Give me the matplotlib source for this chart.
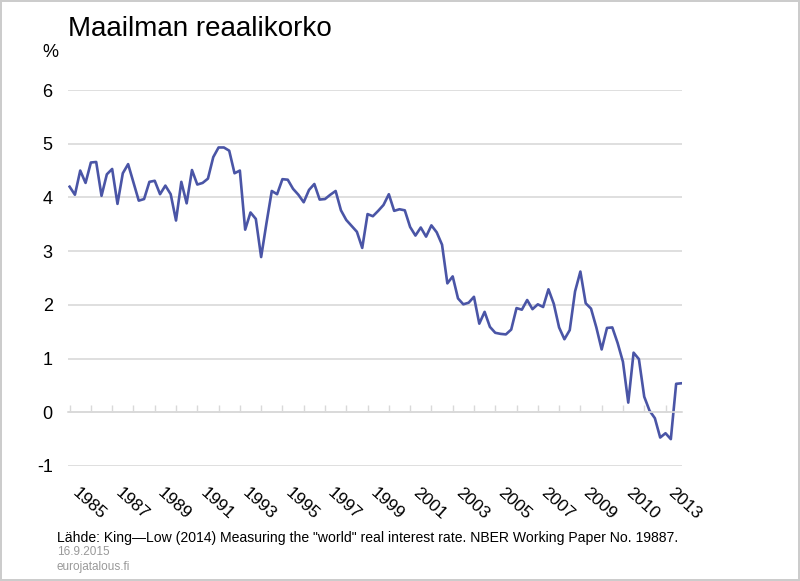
import matplotlib.pyplot as plt
import numpy as np

plt.rcParams["font.family"] = ["Liberation Sans", "DejaVu Sans"]

# Neljännesvuosittainen reaalikorko 1985Q1-2013Q4 (%)
rate = [
    4.20, 4.05, 4.50, 4.27, 4.65, 4.66, 4.03, 4.43, 4.53, 3.88,
    4.45, 4.62, 4.28, 3.94, 3.97, 4.29, 4.31, 4.06, 4.22, 4.06,
    3.57, 4.29, 3.89, 4.51, 4.24, 4.27, 4.35, 4.75, 4.93, 4.93,
    4.87, 4.45, 4.50, 3.40, 3.72, 3.60, 2.89, 3.52, 4.12, 4.06,
    4.34, 4.33, 4.16, 4.05, 3.91, 4.14, 4.25, 3.96, 3.97, 4.05,
    4.12, 3.76, 3.58, 3.47, 3.36, 3.06, 3.69, 3.65, 3.75, 3.86,
    4.06, 3.75, 3.78, 3.76, 3.45, 3.29, 3.44, 3.27, 3.48, 3.35,
    3.12, 2.40, 2.53, 2.12, 2.01, 2.04, 2.15, 1.65, 1.87, 1.59,
    1.48, 1.46, 1.45, 1.54, 1.94, 1.91, 2.09, 1.92, 2.01, 1.96,
    2.29, 2.02, 1.58, 1.36, 1.53, 2.25, 2.62, 2.03, 1.93, 1.58,
    1.17, 1.57, 1.58, 1.29, 0.94, 0.18, 1.11, 0.99, 0.29, 0.03,
    -0.11, -0.47, -0.39, -0.50, 0.53, 0.54,
]
year_labels = ["1985", "1987", "1989", "1991", "1993", "1995", "1997", "1999",
               "2001", "2003", "2005", "2007", "2009", "2010", "2013"]
y_ticks = [-1, 0, 1, 2, 3, 4, 5, 6]

LINE_COLOR = "#4a55a6"
GRID_COLOR = "#d9d9d9"

x = np.arange(len(rate))

fig = plt.figure(figsize=(8, 5.81), dpi=100)
fig.patch.set_edgecolor("#cccccc")
fig.patch.set_linewidth(1.5)
ax = fig.add_axes([0.085, 1 - 466 / 581, 0.7675, (466 - 90) / 581])

ax.plot(x, rate, color=LINE_COLOR, linewidth=1.9, solid_joinstyle="round")

ax.set_xlim(-0.3, len(rate) - 0.9)
ax.set_ylim(-1, 6)
ax.set_yticks(y_ticks)
ax.set_yticklabels([str(v) for v in y_ticks])
ax.grid(axis="y", color=GRID_COLOR, linewidth=1.2)
ax.set_axisbelow(True)
ax.tick_params(axis="y", length=0, pad=11, labelsize=13)

for side in ["left", "right", "top"]:
    ax.spines[side].set_visible(False)
# nolla-akseli vuosittaisilla väliviivoilla
ax.spines["bottom"].set_position(("data", 0))
ax.spines["bottom"].set_color(GRID_COLOR)
ax.spines["bottom"].set_linewidth(1.2)
ax.set_xticks(x[::4])
ax.tick_params(axis="x", direction="in", length=5, color=GRID_COLOR,
               width=1.0, labelbottom=False)

# vuosiluvut alhaalla vinossa
sec = ax.secondary_xaxis("bottom")
sec.set_xticks(x[::8])
sec.set_xticklabels(year_labels)
sec.spines["bottom"].set_visible(False)
sec.tick_params(axis="x", length=0, pad=14, labelsize=12.5)
for lbl in sec.get_xticklabels():
    lbl.set_rotation(-42)
    lbl.set_ha("left")
    lbl.set_va("top")
    lbl.set_rotation_mode("default")

fig.text(0.085, 1 - 36 / 581, "Maailman reaalikorko", fontsize=20,
         va="baseline", ha="left")
fig.text(0.0525, 1 - 57 / 581, "%", fontsize=13, va="baseline", ha="left")

fig.text(0.071, 1 - 542 / 581,
         'Lähde: King\u2014Low (2014) Measuring the "world" real interest rate. '
         'NBER Working Paper No. 19887.',
         fontsize=10.1, va="baseline", ha="left")
fig.text(0.071, 1 - 555 / 581, "16.9.2015", fontsize=8.5, color="#999999",
         va="baseline", ha="left")
fig.text(0.071, 1 - 570 / 581, "eurojatalous.fi", fontsize=8.5, color="#999999",
         va="baseline", ha="left")

fig.savefig("out.png", dpi=100, edgecolor=fig.get_edgecolor())
